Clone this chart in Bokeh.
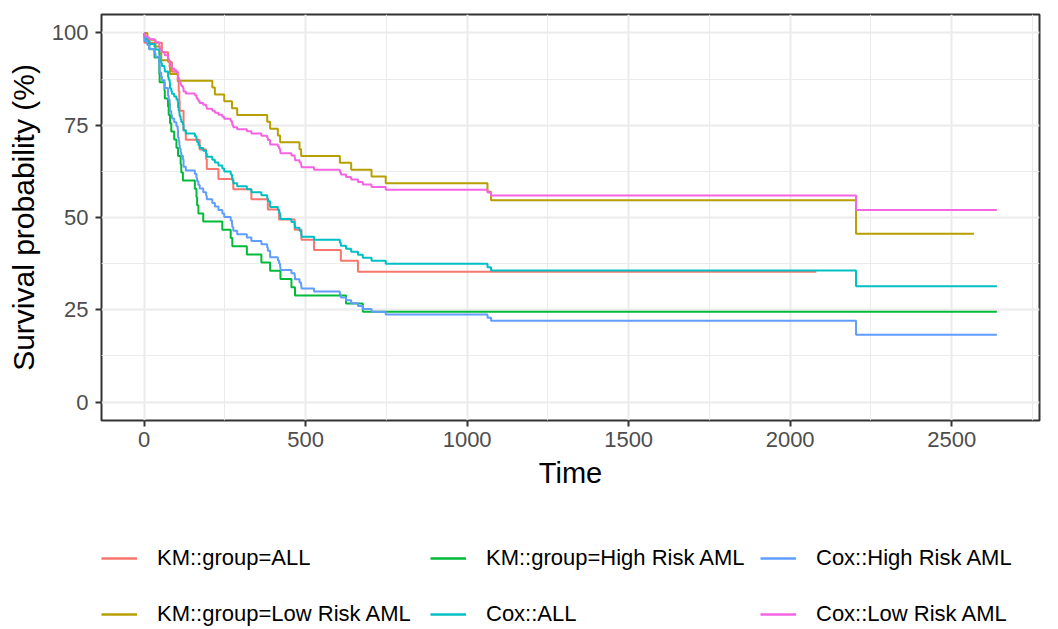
from bokeh.plotting import figure
from bokeh.models import FixedTicker, Legend, LegendItem, Range1d
from bokeh.layouts import column
from bokeh.embed import file_html
from bokeh.resources import INLINE

# ---------------- data ----------------
series_labels = ["KM::group=ALL", "KM::group=Low Risk AML", "KM::group=High Risk AML",
                 "Cox::ALL", "Cox::High Risk AML", "Cox::Low Risk AML"]
series_colors = ["#F8766D", "#B79F00", "#00BA38", "#00BFC4", "#619CFF", "#F564E3"]

km_all_t = [0, 1, 55, 74, 86, 104, 107, 109, 110, 122, 129, 172, 192, 194, 230, 276,
            332, 383, 418, 466, 487, 526, 609, 662, 2081]
km_all_s = [100, 97.37, 94.74, 92.11, 89.47, 86.84, 84.21, 81.58, 78.95, 73.68, 71.05,
            68.42, 65.79, 63.16, 60.41, 57.67, 54.92, 52.17, 49.43, 46.68, 43.94, 41.19,
            38.25, 35.31, 35.31]

km_low_t = [0, 10, 35, 48, 53, 79, 80, 105, 211, 219, 248, 272, 288, 381, 390, 414, 421,
            481, 486, 606, 641, 704, 748, 1063, 1074, 2204, 2569]
km_low_s = [100, 98.15, 96.30, 94.44, 92.59, 90.74, 88.89, 87.04, 85.19, 83.33, 81.48,
            79.63, 77.78, 75.93, 74.07, 72.22, 70.37, 68.52, 66.67, 64.81, 62.96, 61.11,
            59.26, 56.98, 54.70, 45.58, 45.58]

km_high_t = [0, 2, 16, 32, 47, 48, 63, 64, 74, 76, 80, 84, 93, 100, 105, 113, 115, 120,
             157, 162, 164, 168, 183, 242, 268, 273, 318, 363, 390, 422, 456, 467, 625,
             677, 2640]
km_high_s = [100, 97.78, 95.56, 93.33, 88.89, 86.67, 84.44, 82.22, 80.00, 77.78, 75.56,
             73.33, 71.11, 68.89, 66.67, 64.44, 62.22, 60.00, 57.78, 55.56, 53.33, 51.11,
             48.89, 46.67, 44.44, 42.22, 40.00, 37.78, 35.56, 33.33, 31.11, 28.89, 26.67,
             24.44, 24.44]

cox_t = [0, 1, 2, 10, 16, 32, 35, 47, 48, 53, 55, 63, 64, 74, 76, 79, 80, 84, 86, 93, 100,
         104, 105, 107, 109, 110, 113, 115, 120, 122, 129, 157, 162, 164, 168, 172, 183,
         192, 194, 211, 219, 230, 242, 248, 268, 272, 273, 276, 288, 318, 332, 363, 381,
         383, 390, 414, 418, 421, 422, 456, 466, 467, 481, 486, 487, 526, 606, 609, 625,
         641, 662, 677, 704, 748, 1063, 1074, 2204, 2640]
cox_all_s = [100, 99.26, 98.52, 97.77, 97.03, 96.29, 95.54, 94.06, 92.56, 91.81, 91.07,
             90.32, 89.57, 88.07, 87.31, 86.55, 85.05, 84.29, 83.53, 82.77, 82.01, 81.24,
             79.72, 78.95, 78.18, 77.41, 76.65, 75.88, 75.11, 73.56, 72.78, 72.00, 71.22,
             70.44, 69.65, 68.85, 68.06, 67.26, 66.46, 65.66, 64.87, 64.07, 63.27, 62.46,
             61.66, 60.86, 60.06, 59.25, 58.45, 57.65, 56.84, 56.04, 55.23, 54.42, 52.82,
             52.01, 51.21, 50.41, 49.61, 48.81, 48.00, 47.20, 46.38, 45.57, 44.77, 43.97,
             43.15, 42.34, 41.53, 40.72, 39.91, 39.10, 38.28, 37.47, 36.55, 35.64, 31.34,
             31.34]
cox_high_s = [100, 98.91, 97.83, 96.75, 95.68, 94.60, 93.53, 91.40, 89.28, 88.22, 87.17,
              86.12, 85.08, 83.00, 81.95, 80.91, 78.85, 77.83, 76.80, 75.78, 74.75, 73.73,
              71.70, 70.70, 69.69, 68.69, 67.70, 66.70, 65.71, 63.73, 62.74, 61.76, 60.78,
              59.80, 58.82, 57.84, 56.86, 55.89, 54.92, 53.95, 53.00, 52.04, 51.09, 50.14,
              49.20, 48.26, 47.33, 46.40, 45.48, 44.57, 43.66, 42.76, 41.85, 40.96, 39.21,
              38.33, 37.47, 36.61, 35.77, 34.92, 34.08, 33.24, 32.40, 31.58, 30.77, 29.96,
              29.15, 28.35, 27.56, 26.77, 25.99, 25.22, 24.44, 23.69, 22.84, 22.02, 18.23,
              18.23]
cox_low_s = [100, 99.58, 99.16, 98.74, 98.32, 97.89, 97.46, 96.61, 95.74, 95.30, 94.87,
             94.43, 93.99, 93.10, 92.65, 92.19, 91.29, 90.83, 90.37, 89.90, 89.43, 88.96,
             88.02, 87.54, 87.06, 86.58, 86.09, 85.61, 85.11, 84.12, 83.62, 83.12, 82.61,
             82.09, 81.57, 81.05, 80.52, 79.99, 79.45, 78.91, 78.37, 77.83, 77.28, 76.73,
             76.17, 75.61, 75.05, 74.48, 73.91, 73.34, 72.76, 72.17, 71.58, 70.99, 69.81,
             69.21, 68.61, 68.00, 67.40, 66.78, 66.16, 65.53, 64.89, 64.25, 63.61, 62.96,
             62.30, 61.64, 60.98, 60.30, 59.62, 58.94, 58.24, 57.54, 56.74, 55.94, 52.04,
             52.04]

x_ticks = [0, 500, 1000, 1500, 2000, 2500]
x_minor = [250, 750, 1250, 1750, 2250, 2750]
y_ticks = [0, 25, 50, 75, 100]
y_minor = [12.5, 37.5, 62.5, 87.5]

# ---------------- main panel ----------------
FONT = "Liberation Sans"
p = figure(width=1058, height=520, output_backend="svg", toolbar_location=None,
           x_range=Range1d(-132, 2772), y_range=Range1d(-5, 105),
           min_border_left=101, min_border_right=19, min_border_top=14,
           min_border_bottom=100,
           x_axis_label="Time", y_axis_label="Survival probability (%)")
p.background_fill_color = "white"
p.border_fill_color = "white"
p.outline_line_color = "#333333"
p.outline_line_width = 2

p.xaxis.ticker = FixedTicker(ticks=x_ticks, minor_ticks=x_minor)
p.yaxis.ticker = FixedTicker(ticks=y_ticks, minor_ticks=y_minor)
for ax in (p.xaxis, p.yaxis):
    ax.axis_line_color = None
    ax.major_tick_line_color = "#333333"
    ax.major_tick_line_width = 2
    ax.major_tick_out = 6
    ax.major_tick_in = 0
    ax.minor_tick_line_color = None
    ax.major_label_text_font = FONT
    ax.major_label_text_font_size = "22px"
    ax.major_label_text_color = "#4D4D4D"
    ax.axis_label_text_font = FONT
    ax.axis_label_text_font_style = "normal"
    ax.axis_label_text_color = "black"
p.xaxis.major_label_standoff = 5
p.xaxis.axis_label_standoff = 7
p.xaxis.axis_label_text_font_size = "29px"
p.yaxis.major_label_standoff = 7
p.yaxis.axis_label_standoff = 9
p.yaxis.axis_label_text_font_size = "30px"

for g in (p.xgrid, p.ygrid):
    g.grid_line_color = "#EBEBEB"
    g.grid_line_width = 2
    g.minor_grid_line_color = "#EBEBEB"
    g.minor_grid_line_width = 1

series = [(km_all_t, km_all_s), (km_low_t, km_low_s), (km_high_t, km_high_s),
          (cox_t, cox_all_s), (cox_t, cox_high_s), (cox_t, cox_low_s)]
for (t, s), col in zip(series, series_colors):
    p.step(t, s, mode="after", line_color=col, line_width=2)

# ---------------- legend strip below ----------------
leg = figure(width=1058, height=109, output_backend="svg", toolbar_location=None,
             x_axis_type=None, y_axis_type=None, x_range=Range1d(0, 1),
             y_range=Range1d(0, 1), min_border=0, min_border_left=0,
             min_border_right=0, min_border_top=0, min_border_bottom=0)
leg.outline_line_color = None
leg.background_fill_color = "white"
leg.border_fill_color = "white"
leg.grid.visible = False
nan = float("nan")
# legend keys only (a single undefined point, nothing is drawn in the strip)
proxies = [leg.line([nan], [nan], line_color=c, line_width=2.5) for c in series_colors]

col_groups = [[0, 1], [2, 3], [4, 5]]
col_offsets = [0, 329, 659]
for grp, off in zip(col_groups, col_offsets):
    items = [LegendItem(label=series_labels[i], renderers=[proxies[i]]) for i in grp]
    lg = Legend(items=items, location=(off, 0), orientation="vertical",
                glyph_width=36, glyph_height=30, label_height=30,
                label_standoff=20, spacing=26, padding=0, margin=0,
                border_line_color=None, background_fill_alpha=0,
                label_text_font=FONT, label_text_font_size="22px",
                label_text_color="black")
    leg.add_layout(lg, "center")

layout = column(p, leg, spacing=0)
open("out.html", "w").write(file_html(layout, INLINE))
